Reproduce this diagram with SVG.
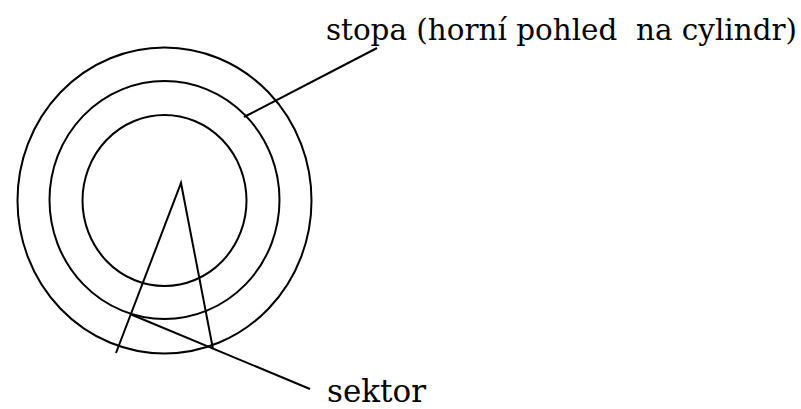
<svg xmlns="http://www.w3.org/2000/svg" width="801" height="409" viewBox="0 0 801 409">
<style>
.ln{fill:none;stroke:#000;stroke-width:2}
.t{font-family:"DejaVu Serif","Liberation Serif",serif;fill:#000}
</style>
<rect width="801" height="409" fill="#fff"/>
<g id="disk">
<ellipse class="ln" cx="164.5" cy="200.5" rx="147" ry="153"/>
<ellipse class="ln" cx="164.5" cy="200" rx="115" ry="119"/>
<ellipse class="ln" cx="164.5" cy="200.5" rx="82" ry="85.5"/>
</g>
<g id="sector">
<polyline class="ln" points="116,353 181,183 213,349"/>
</g>
<g id="connectors">
<line class="ln" x1="244" y1="117" x2="377" y2="48"/>
<line class="ln" x1="130" y1="314" x2="310" y2="389"/>
</g>
<g id="label-stopa">
<text class="t" x="326" y="40" font-size="29" textLength="471" lengthAdjust="spacingAndGlyphs" xml:space="preserve">stopa (horní pohled  na cylindr)</text>
</g>
<g id="label-sektor">
<text class="t" x="327" y="402" font-size="32" textLength="99" lengthAdjust="spacingAndGlyphs">sektor</text>
</g>
</svg>
